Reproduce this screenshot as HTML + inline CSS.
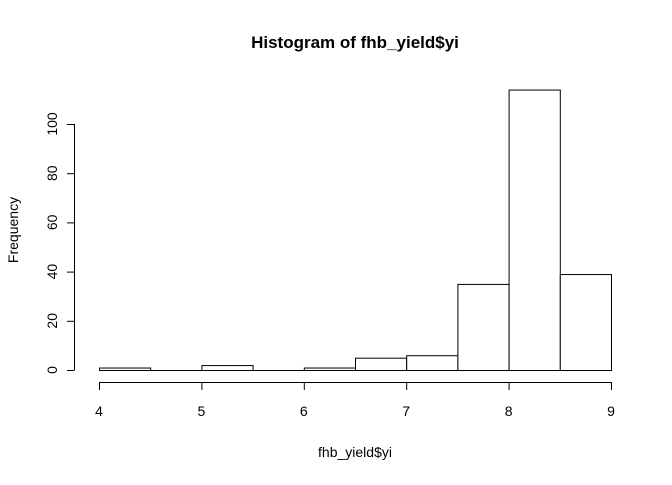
<!DOCTYPE html>
<html><head><meta charset="utf-8"><style>
body{margin:0;background:#fff}
text{font-family:"Liberation Sans",Arial,sans-serif;fill:#000}
</style></head><body>
<svg id="chart" width="672" height="480" xmlns="http://www.w3.org/2000/svg">
<rect width="672" height="480" fill="#fff"/>
<text x="355" y="48" text-anchor="middle" font-size="17" font-weight="bold">Histogram of fhb_yield$yi</text>
<text x="355" y="457" text-anchor="middle" font-size="14">fhb_yield$yi</text>
<text transform="translate(18,230) rotate(-90)" text-anchor="middle" font-size="14">Frequency</text>
<g id="bars"></g><g id="xaxis"></g><g id="yaxis"></g>
</svg>
<script>
const binEdges=[4,4.5,5,5.5,6,6.5,7,7.5,8,8.5,9];
const counts=[1,0,2,0,1,5,6,35,114,39];
const xTicks=[4,5,6,7,8,9];
const yTicks=[0,20,40,60,80,100];
const NS="http://www.w3.org/2000/svg";
const xs=v=>99+(v-4)*102.4;
const ys=v=>370-v*2.46;
function mk(t,a,p){const e=document.createElementNS(NS,t);for(const k in a)e.setAttribute(k,a[k]);p.appendChild(e);return e;}
const bars=document.getElementById('bars');
counts.forEach((c,i)=>{
 const x0=xs(binEdges[i]),x1=xs(binEdges[i+1]);
 const r=mk('rect',{x:x0+0.5,y:ys(c)+0.5,width:x1-x0,height:Math.max(ys(0)-ys(c),0),fill:'#fff',stroke:'#000','stroke-width':1},bars);
 
 
});
const base=mk('line',{x1:xs(binEdges[0])+0.5,x2:xs(binEdges[binEdges.length-1])+0.5,y1:ys(0)+0.5,y2:ys(0)+0.5,stroke:'#000'},bars);


const xa=document.getElementById('xaxis');


mk('line',{x1:xs(xTicks[0]),x2:xs(xTicks[xTicks.length-1]),y1:382.5,y2:382.5,stroke:'#000'},xa);
xTicks.forEach(t=>{
 mk('line',{x1:xs(t)+0.5,x2:xs(t)+0.5,y1:382,y2:390,stroke:'#000'},xa);
 const tx=mk('text',{x:xs(t),y:416,'text-anchor':'middle','font-size':14},xa);
 tx.textContent=t;
 
 
});
const ya=document.getElementById('yaxis');


mk('line',{x1:74.5,x2:74.5,y1:ys(yTicks[0]),y2:ys(yTicks[yTicks.length-1]),stroke:'#000'},ya);
yTicks.forEach(t=>{
 mk('line',{x1:67,x2:74.5,y1:ys(t)+0.5,y2:ys(t)+0.5,stroke:'#000'},ya);
 const tx=mk('text',{transform:`translate(57,${ys(t)}) rotate(-90)`,'text-anchor':'middle','font-size':14},ya);
 tx.textContent=t;
 
 
});
</script>
</body></html>
